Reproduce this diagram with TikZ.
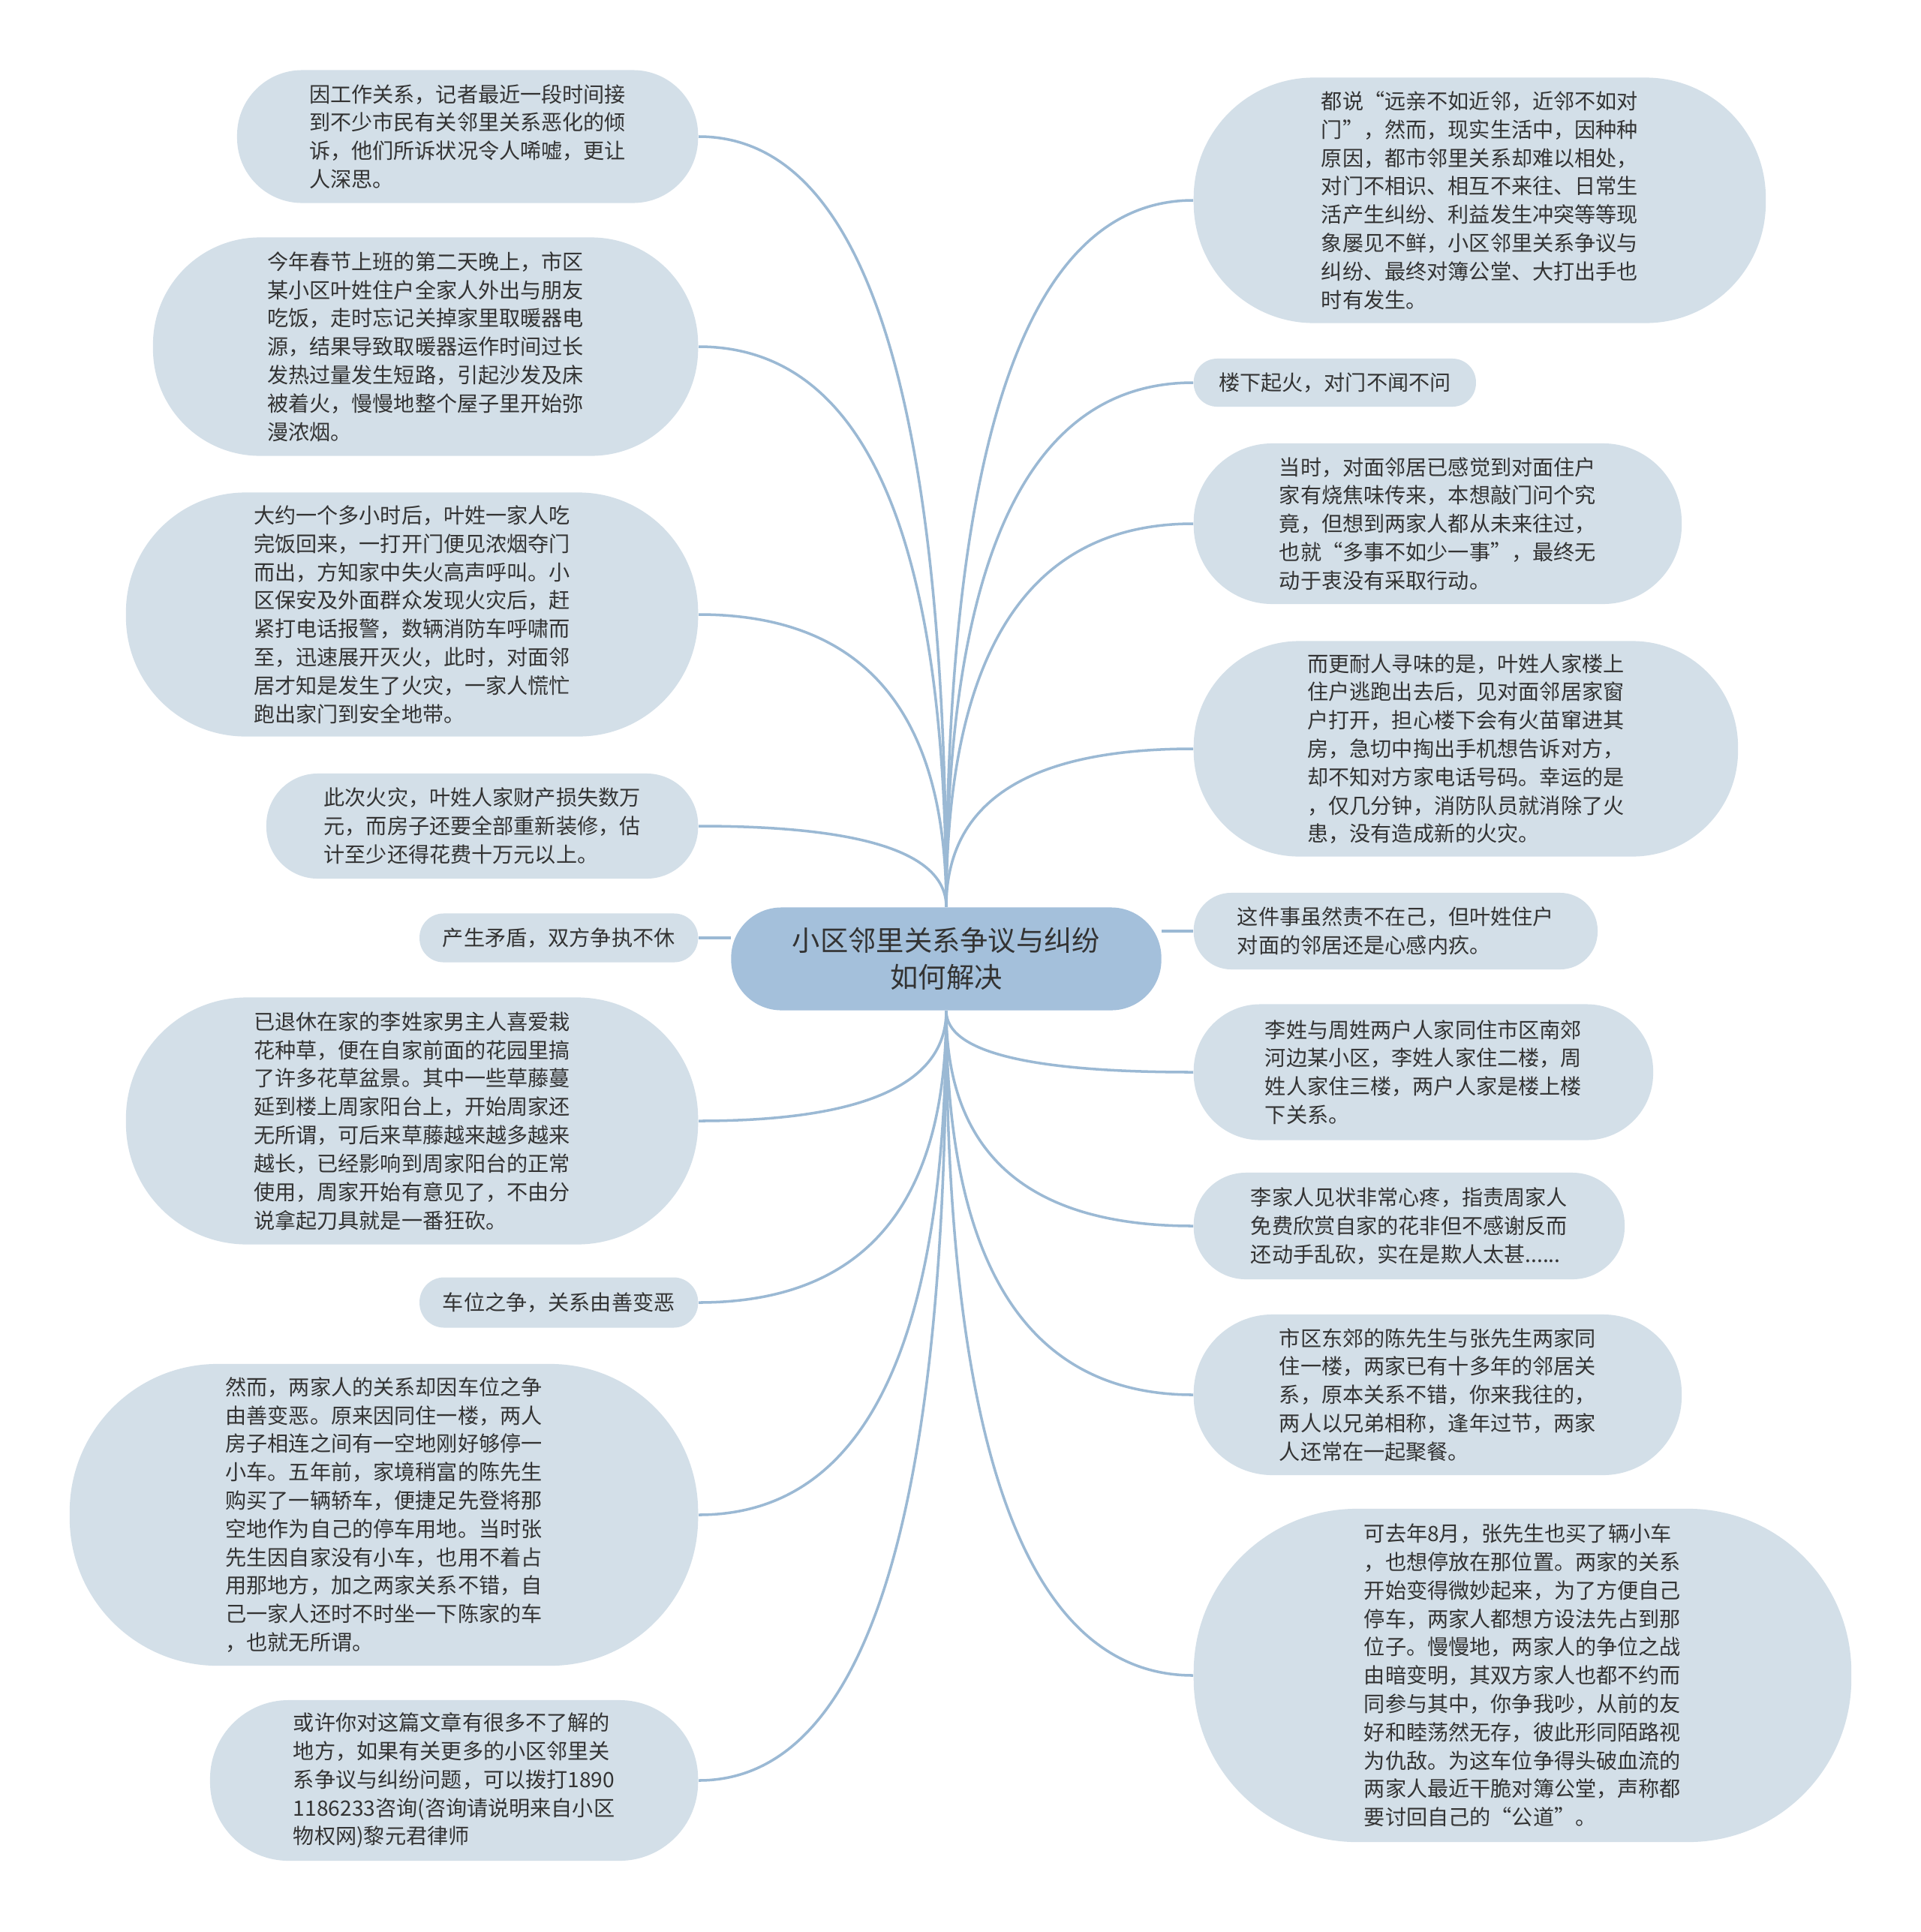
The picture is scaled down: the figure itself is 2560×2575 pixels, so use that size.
\documentclass[tikz,border=0pt]{standalone}
\usepackage{fontspec}
\setmainfont{Noto Sans CJK SC}
\definecolor{leafgray}{RGB}{211,223,232}
\definecolor{hubblue}{RGB}{164,192,219}
\definecolor{linkblue}{RGB}{155,185,212}
\definecolor{inkgray}{RGB}{51,51,51}
\usetikzlibrary{calc}

\begin{document}
\begin{tikzpicture}[x=0.01cm, y=-0.01cm,
    leaf/.style 2 args={fill=leafgray, text=inkgray, minimum width=#1cm,
      minimum height=#2cm, rounded corners=#2*0.49cm, inner sep=0pt,
      align=left, font=\fontsize{8pt}{10.75pt}\selectfont},
    hub/.style={fill=hubblue, text=inkgray, minimum width=5.73cm,
      minimum height=1.37cm, rounded corners=0.67cm, inner sep=0pt,
      align=center, font=\fontsize{10.6pt}{14pt}\selectfont},
    link/.style={draw=linkblue, line width=1pt},
    branch/.style={link, to path={.. controls
      ($(\tikztostart)!0.667!(\tikztostart |- \tikztotarget)$) and
      ($(\tikztotarget)!0.667!(\tikztostart |- \tikztotarget)$) .. (\tikztotarget)}},
  ]
    \fill[white] (0,0) rectangle (2560,2575);
    \useasboundingbox (0,0) rectangle (2560,2575);

    \node[hub] (hub) at (1261,1278) {小区邻里关系争议与纠纷\\如何解决};

    % left side
    \node[leaf={6.14}{1.77}, anchor=east] (intro) at (931,182) {%
      因工作关系，记者最近一段时间接\\到不少市民有关邻里关系恶化的倾\\%
      诉，他们所诉状况令人唏嘘，更让\\人深思。};
    \node[leaf={7.26}{2.91}, anchor=east] (heater) at (931,462) {%
      今年春节上班的第二天晚上，市区\\某小区叶姓住户全家人外出与朋友\\%
      吃饭，走时忘记关掉家里取暖器电\\源，结果导致取暖器运作时间过长\\%
      发热过量发生短路，引起沙发及床\\被着火，慢慢地整个屋子里开始弥\\漫浓烟。};
    \node[leaf={7.62}{3.25}, anchor=east] (escape) at (931,819) {%
      大约一个多小时后，叶姓一家人吃\\完饭回来，一打开门便见浓烟夺门\\%
      而出，方知家中失火高声呼叫。小\\区保安及外面群众发现火灾后，赶\\%
      紧打电话报警，数辆消防车呼啸而\\至，迅速展开灭火，此时，对面邻\\%
      居才知是发生了火灾，一家人慌忙\\跑出家门到安全地带。};
    \node[leaf={5.75}{1.40}, anchor=east] (loss) at (931,1101) {%
      此次火灾，叶姓人家财产损失数万\\元，而房子还要全部重新装修，估\\%
      计至少还得花费十万元以上。};
    \node[leaf={3.71}{0.65}, anchor=east] (quarrel) at (931,1250) {产生矛盾，双方争执不休};
    \node[leaf={7.62}{3.29}, anchor=east] (vines) at (931,1494) {%
      已退休在家的李姓家男主人喜爱栽\\花种草，便在自家前面的花园里搞\\%
      了许多花草盆景。其中一些草藤蔓\\延到楼上周家阳台上，开始周家还\\%
      无所谓，可后来草藤越来越多越来\\越长，已经影响到周家阳台的正常\\%
      使用，周家开始有意见了，不由分\\说拿起刀具就是一番狂砍。};
    \node[leaf={3.71}{0.67}, anchor=east] (parking) at (931,1736) {车位之争，关系由善变恶};
    \node[leaf={8.37}{4.02}, anchor=east] (carspot) at (931,2019) {%
      然而，两家人的关系却因车位之争\\由善变恶。原来因同住一楼，两人\\%
      房子相连之间有一空地刚好够停一\\小车。五年前，家境稍富的陈先生\\%
      购买了一辆轿车，便捷足先登将那\\空地作为自己的停车用地。当时张\\%
      先生因自家没有小车，也用不着占\\用那地方，加之两家关系不错，自\\%
      己一家人还时不时坐一下陈家的车\\，也就无所谓。};
    \node[leaf={6.50}{2.14}, anchor=east] (lawyer) at (931,2373) {%
      或许你对这篇文章有很多不了解的\\地方，如果有关更多的小区邻里关\\%
      系争议与纠纷问题，可以拨打1890\\1186233咨询(咨询请说明来自小区\\%
      物权网)黎元君律师};

    % right side
    \node[leaf={7.62}{3.27}, anchor=west] (saying) at (1590,267) {%
      都说“远亲不如近邻，近邻不如对\\门”，然而，现实生活中，因种种\\%
      原因，都市邻里关系却难以相处，\\对门不相识、相互不来往、日常生\\%
      活产生纠纷、利益发生冲突等等现\\象屡见不鲜，小区邻里关系争议与\\%
      纠纷、最终对簿公堂、大打出手也\\时有发生。};
    \node[leaf={3.76}{0.64}, anchor=west] (downfire) at (1590,510) {楼下起火，对门不闻不问};
    \node[leaf={6.50}{2.14}, anchor=west] (neighbor) at (1590,698) {%
      当时，对面邻居已感觉到对面住户\\家有烧焦味传来，本想敲门问个究\\%
      竟，但想到两家人都从未来往过，\\也就“多事不如少一事”，最终无\\%
      动于衷没有采取行动。};
    \node[leaf={7.25}{2.87}, anchor=west] (upstairs) at (1590,998) {%
      而更耐人寻味的是，叶姓人家楼上\\住户逃跑出去后，见对面邻居家窗\\%
      户打开，担心楼下会有火苗窜进其\\房，急切中掏出手机想告诉对方，\\%
      却不知对方家电话号码。幸运的是\\，仅几分钟，消防队员就消除了火\\%
      患，没有造成新的火灾。};
    \node[leaf={5.38}{1.02}, anchor=west] (guilt) at (1590,1241) {%
      这件事虽然责不在己，但叶姓住户\\对面的邻居还是心感内疚。};
    \node[leaf={6.12}{1.81}, anchor=west] (lizhou) at (1590,1429) {%
      李姓与周姓两户人家同住市区南郊\\河边某小区，李姓人家住二楼，周\\%
      姓人家住三楼，两户人家是楼上楼\\下关系。};
    \node[leaf={5.74}{1.42}, anchor=west] (complaint) at (1590,1634) {%
      李家人见状非常心疼，指责周家人\\免费欣赏自家的花非但不感谢反而\\%
      还动手乱砍，实在是欺人太甚......};
    \node[leaf={6.50}{2.14}, anchor=west] (chenzhang) at (1590,1859) {%
      市区东郊的陈先生与张先生两家同\\住一楼，两家已有十多年的邻居关\\%
      系，原本关系不错，你来我往的，\\两人以兄弟相称，逢年过节，两家\\%
      人还常在一起聚餐。};
    \node[leaf={8.76}{4.44}, anchor=west] (court) at (1590,2233) {%
      可去年8月，张先生也买了辆小车\\，也想停放在那位置。两家的关系\\%
      开始变得微妙起来，为了方便自己\\停车，两家人都想方设法先占到那\\%
      位子。慢慢地，两家人的争位之战\\由暗变明，其双方家人也都不约而\\%
      同参与其中，你争我吵，从前的友\\好和睦荡然无存，彼此形同陌路视\\%
      为仇敌。为这车位争得头破血流的\\两家人最近干脆对簿公堂，声称都\\%
      要讨回自己的“公道”。};

    % connectors
    \draw[branch] (hub.north) to (intro.east);
    \draw[branch] (hub.north) to (heater.east);
    \draw[branch] (hub.north) to (escape.east);
    \draw[branch] (hub.north) to (loss.east);
    \draw[link] (quarrel.east) -- (quarrel.east -| hub.west);
    \draw[branch] (hub.south) to (vines.east);
    \draw[branch] (hub.south) to (parking.east);
    \draw[branch] (hub.south) to (carspot.east);
    \draw[branch] (hub.south) to (lawyer.east);
    \draw[branch] (hub.north) to (saying.west);
    \draw[branch] (hub.north) to (downfire.west);
    \draw[branch] (hub.north) to (neighbor.west);
    \draw[branch] (hub.north) to (upstairs.west);
    \draw[link] (guilt.west) -- (guilt.west -| hub.east);
    \draw[branch] (hub.south) to (lizhou.west);
    \draw[branch] (hub.south) to (complaint.west);
    \draw[branch] (hub.south) to (chenzhang.west);
    \draw[branch] (hub.south) to (court.west);
  \end{tikzpicture}
\end{document}
